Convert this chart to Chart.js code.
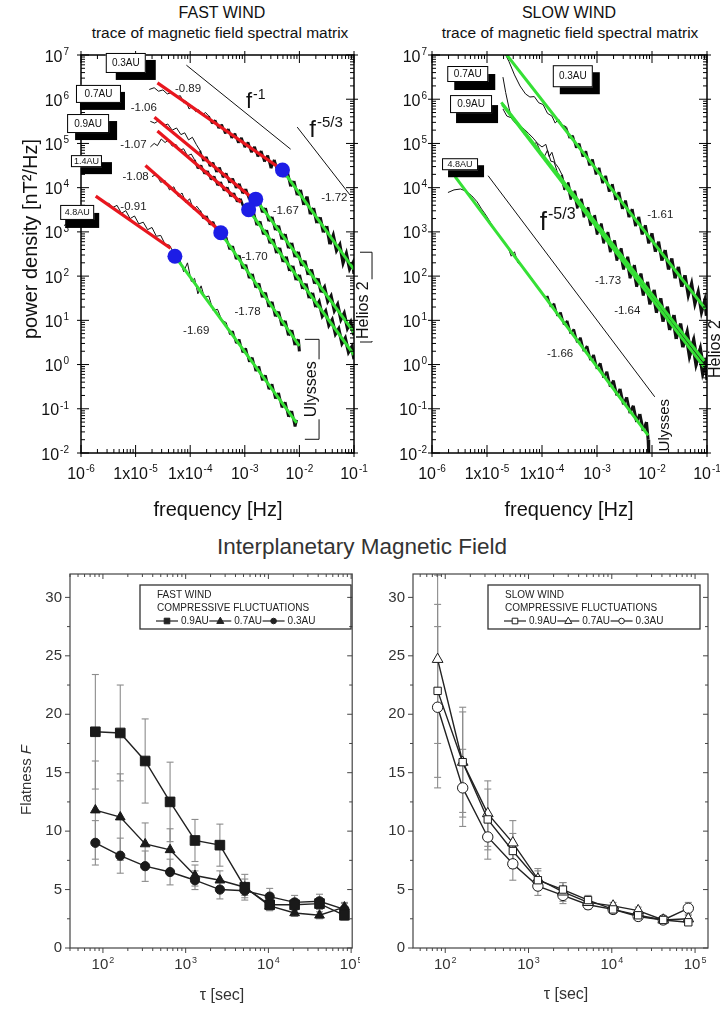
<!DOCTYPE html>
<html><head><meta charset="utf-8">
<script src="https://cdn.jsdelivr.net/npm/chart.js@4.4.1/dist/chart.umd.min.js"></script>
<style>
html,body{margin:0;padding:0;background:#fff;}
body{width:720px;height:1009px;position:relative;overflow:hidden;font-family:"Liberation Sans",Arial,sans-serif;}
canvas{position:absolute;}
.ttl{position:absolute;text-align:center;color:#111;white-space:nowrap;}
</style></head><body>
<div class="ttl" style="left:122px;top:4px;width:200px;font-size:16px;">FAST WIND</div>
<div class="ttl" style="left:60px;top:24px;width:320px;font-size:15.5px;">trace of magnetic field spectral matrix</div>
<div class="ttl" style="left:469px;top:4px;width:200px;font-size:16px;">SLOW WIND</div>
<div class="ttl" style="left:410px;top:24px;width:320px;font-size:15.5px;">trace of magnetic field spectral matrix</div>
<div class="ttl" style="left:162px;top:534px;width:400px;font-size:22.5px;color:#333;">Interplanetary Magnetic Field</div>
<canvas id="fastSpec" width="380" height="525" style="left:0;top:0"></canvas>
<canvas id="slowSpec" width="360" height="525" style="left:360px;top:0"></canvas>
<canvas id="fastFlat" width="360" height="479" style="left:0;top:530px"></canvas>
<canvas id="slowFlat" width="360" height="479" style="left:360px;top:530px"></canvas>
<script>
const FF = '"Liberation Sans", Arial, sans-serif';

// ================= TOP PANELS: spectra, values as [log10 f (Hz), log10 P (nT^2/Hz)] =================
const specXTickExp = [-6, -5, -4, -3, -2, -1];
const specXTickLabels = ['10^-6', '1x10^-5', '1x10^-4', '10^-3', '10^-2', '10^-1'];
const specYTickExp = [-2, -1, 0, 1, 2, 3, 4, 5, 6, 7];
const specYTickLabels = ['10^-2', '10^-1', '10^0', '10^1', '10^2', '10^3', '10^4', '10^5', '10^6', '10^7'];

// ---- FAST WIND ----
const fast03Trace = [[-4.75,6.22],[-4.66,6.26],[-4.58,6.18],[-4.50,6.21],[-4.42,6.12],[-4.34,6.15],[-4.26,6.05],[-4.18,6.08],[-4.12,5.92],[-4.08,5.96],[-4.02,5.78],[-3.96,5.84],[-3.90,5.72],[-3.84,5.76],[-3.78,5.64],[-3.72,5.70],
 [-3.66,5.62],[-3.60,5.45],[-3.54,5.53],[-3.48,5.34],[-3.42,5.43],[-3.36,5.22],[-3.30,5.33],[-3.24,5.12],[-3.18,5.23],[-3.12,5.01],[-3.06,5.13],[-3.00,4.91],[-2.94,5.03],[-2.88,4.80],[-2.82,4.93],[-2.76,4.70],[-2.70,4.83],[-2.64,4.59],[-2.58,4.73],[-2.52,4.44],[-2.46,4.63],[-2.40,4.38],[-2.34,4.53],
 [-2.28,4.24],[-2.22,4.36],[-2.16,4.03],[-2.10,4.15],[-2.04,3.83],[-1.98,3.95],[-1.92,3.61],[-1.86,3.80],[-1.80,3.40],[-1.74,3.54],[-1.68,3.20],[-1.62,3.33],[-1.56,2.99],[-1.50,3.13],[-1.44,2.72],[-1.38,2.92],[-1.32,2.58],[-1.26,2.71],[-1.20,2.30],[-1.14,2.51],[-1.08,2.16],[-1.02,2.30],[-1.00,2.05]];
const fast07Trace = [[-4.73,5.50],[-4.65,5.46],[-4.57,5.52],[-4.49,5.40],[-4.41,5.44],[-4.33,5.30],[-4.25,5.35],[-4.17,5.20],[-4.10,5.24],[-4.03,5.08],[-3.96,5.14],[-3.89,4.98],
 [-3.82,4.84],[-3.76,4.60],[-3.70,4.70],[-3.64,4.48],[-3.58,4.57],[-3.52,4.35],[-3.46,4.46],[-3.40,4.23],[-3.34,4.33],[-3.28,4.11],[-3.22,4.21],[-3.16,3.99],[-3.10,4.09],[-3.04,3.87],[-2.98,3.97],[-2.92,3.74],[-2.86,3.85],
 [-2.80,3.66],[-2.74,3.74],[-2.68,3.44],[-2.62,3.54],[-2.56,3.24],[-2.50,3.34],[-2.44,3.04],[-2.38,3.14],[-2.32,2.83],[-2.26,2.95],[-2.20,2.63],[-2.14,2.75],[-2.08,2.43],[-2.02,2.55],[-1.96,2.23],[-1.90,2.35],[-1.84,2.03],[-1.78,2.15],[-1.72,1.83],[-1.66,1.95],[-1.60,1.63],[-1.54,1.75],[-1.48,1.43],[-1.42,1.55],[-1.36,1.22],[-1.30,1.36],[-1.24,1.02],[-1.18,1.16],[-1.12,0.82],[-1.06,0.96],[-1.00,0.66]];
const fast09Trace = [[-4.73,4.92],[-4.66,5.00],[-4.60,4.95],[-4.53,5.10],[-4.46,5.02],[-4.40,5.08],[-4.33,4.94],[-4.26,4.98],[-4.19,4.85],[-4.12,4.88],[-4.05,4.72],[-3.98,4.76],
 [-3.92,4.63],[-3.86,4.43],[-3.80,4.51],[-3.74,4.31],[-3.68,4.38],[-3.62,4.18],[-3.56,4.26],[-3.50,4.05],[-3.44,4.13],[-3.38,3.93],[-3.32,4.01],[-3.26,3.80],[-3.20,3.88],[-3.14,3.68],[-3.08,3.75],[-3.02,3.55],[-2.96,3.63],
 [-2.90,3.37],[-2.84,3.45],[-2.78,3.15],[-2.72,3.24],[-2.66,2.94],[-2.60,3.04],[-2.54,2.74],[-2.48,2.84],[-2.42,2.52],[-2.36,2.64],[-2.30,2.32],[-2.24,2.44],[-2.18,2.12],[-2.12,2.23],[-2.06,1.91],[-2.00,2.03],[-1.94,1.71],[-1.88,1.83],[-1.82,1.50],[-1.76,1.62],[-1.70,1.30],[-1.64,1.42],[-1.58,1.10],[-1.52,1.21],[-1.46,0.89],[-1.40,1.01],[-1.34,0.69],[-1.28,0.81],[-1.22,0.48],[-1.16,0.60],[-1.10,0.28],[-1.04,0.40],[-1.00,0.12]];
const fast14Trace = [[-4.70,4.25],[-4.62,4.30],[-4.54,4.12],[-4.46,4.16],[-4.38,3.95],[-4.30,4.02],[-4.22,3.80],[-4.15,3.88],[-4.08,3.66],[-4.01,3.75],[-3.94,3.50],[-3.88,3.58],
 [-3.82,3.48],[-3.76,3.30],[-3.70,3.36],[-3.64,3.16],[-3.58,3.23],[-3.52,3.03],[-3.46,3.08],
 [-3.40,2.83],[-3.34,2.88],[-3.28,2.60],[-3.22,2.68],[-3.16,2.38],[-3.10,2.47],[-3.04,2.17],[-2.98,2.26],[-2.92,1.95],[-2.86,2.05],[-2.80,1.74],[-2.74,1.84],[-2.68,1.52],[-2.62,1.63],[-2.56,1.30],[-2.50,1.42],[-2.44,1.09],[-2.38,1.20],[-2.32,0.88],[-2.26,0.99],[-2.20,0.66],[-2.14,0.78],[-2.08,0.44],[-2.02,0.57],[-2.00,0.30]];
const fast48Trace = [[-5.50,3.66],[-5.42,3.55],[-5.34,3.60],[-5.26,3.42],[-5.18,3.48],[-5.10,3.30],[-5.02,3.36],[-4.94,3.18],[-4.86,3.22],[-4.78,3.05],[-4.70,3.10],[-4.62,2.90],[-4.54,2.92],[-4.46,2.72],[-4.38,2.70],[-4.30,2.52],
 [-4.20,2.42],[-4.12,2.10],[-4.05,2.30],[-3.98,1.88],[-3.92,1.95],[-3.86,1.60],[-3.80,1.78],[-3.74,1.52],[-3.66,1.55],[-3.58,1.22],[-3.50,1.25],[-3.42,1.00],[-3.34,0.95],
 [-3.28,0.68],[-3.22,0.76],[-3.16,0.48],[-3.10,0.57],[-3.04,0.27],[-2.98,0.37],[-2.92,0.06],[-2.86,0.16],[-2.80,-0.15],[-2.74,-0.04],[-2.68,-0.36],[-2.62,-0.24],[-2.56,-0.56],[-2.50,-0.44],[-2.44,-0.77],[-2.38,-0.64],[-2.32,-0.97],[-2.26,-0.85],[-2.20,-1.18],[-2.14,-1.05],[-2.08,-1.40],[-2.05,-1.25]];
// frequency (log10) where each trace turns into the dense noisy band
const fastBandStart = [-3.66, -3.82, -3.92, -3.82, -3.28];
// low-frequency fits (red) and high-frequency fits (green), break points (blue)
const fastLowFits = [[[-4.60,6.37],[-2.31,4.40]], [[-4.655,5.59],[-2.82,3.72]], [[-4.60,5.28],[-3.07,3.67]], [[-4.82,4.50],[-3.49,3.06]], [[-5.73,3.81],[-4.36,2.63]]];
const fastHighFits = [[[-2.31,4.40],[-1.00,2.15]], [[-2.80,3.74],[-1.00,0.73]], [[-2.93,3.50],[-1.00,0.22]], [[-3.44,2.98],[-2.00,0.42]], [[-4.28,2.45],[-2.05,-1.32]]];
const fastBreaks = [[-2.31,4.40],[-2.80,3.74],[-2.93,3.50],[-3.44,2.98],[-4.28,2.45]];
const fastRefLines = [[[-4.07,6.77],[-2.16,4.87]], [[-2.04,5.37],[-1.07,3.83]]];
const fastSlopeLabels = ['-0.89','-1.06','-1.07','-1.08','-0.91','-1.72','-1.67','-1.70','-1.78','-1.69'];
const fastDistances = ['0.3AU','0.7AU','0.9AU','1.4AU','4.8AU'];

// ---- SLOW WIND ----
const slow03Trace = [[-4.70,7.10],[-4.60,6.85],[-4.50,6.55],[-4.40,6.30],[-4.30,6.12],[-4.22,6.05],[-4.14,6.06],[-4.06,5.92],[-3.98,5.88],[-3.90,5.68],[-3.82,5.62],[-3.76,5.46],[-3.70,5.55],[-3.62,5.40],
 [-3.56,5.36],[-3.50,5.12],[-3.44,5.18],[-3.38,4.90],[-3.32,5.00],[-3.26,4.70],[-3.20,4.83],[-3.14,4.50],[-3.08,4.64],[-3.02,4.30],[-2.96,4.45],[-2.90,4.10],[-2.84,4.27],[-2.78,3.91],[-2.72,4.08],[-2.66,3.72],[-2.60,3.90],[-2.54,3.52],[-2.48,3.71],[-2.42,3.33],[-2.36,3.52],[-2.30,3.13],[-2.24,3.34],[-2.18,2.94],[-2.12,3.15],[-2.06,2.74],[-2.00,2.97],[-1.94,2.55],[-1.88,2.78],[-1.82,2.35],[-1.76,2.59],[-1.70,2.15],[-1.64,2.40],[-1.58,1.95],[-1.52,2.21],[-1.46,1.76],[-1.40,2.02],[-1.34,1.57],[-1.28,1.83],[-1.22,1.38],[-1.16,1.64],[-1.10,1.19],[-1.04,1.45],[-1.01,1.10]];
const slow07Trace = [[-4.71,6.50],[-4.66,6.15],[-4.60,5.80],[-4.55,5.55],[-4.48,5.48],[-4.40,5.40],[-4.32,5.32],[-4.24,5.22],[-4.16,5.12],[-4.08,5.00],[-4.00,4.92],[-3.93,4.98],[-3.87,4.70],[-3.82,4.80],[-3.76,4.55],[-3.70,4.45],
 [-3.64,4.30],[-3.58,3.98],[-3.52,4.12],[-3.46,3.78],[-3.40,3.93],[-3.34,3.58],[-3.28,3.75],[-3.22,3.39],[-3.16,3.56],[-3.10,3.19],[-3.04,3.38],[-2.98,3.00],[-2.92,3.19],[-2.86,2.81],[-2.80,3.00],[-2.74,2.62],[-2.68,2.81],[-2.62,2.42],[-2.56,2.63],[-2.50,2.23],[-2.44,2.44],[-2.38,2.04],[-2.32,2.25],[-2.26,1.84],[-2.20,2.06],[-2.14,1.65],[-2.08,1.87],[-2.02,1.45],[-1.96,1.69],[-1.90,1.26],[-1.84,1.50],[-1.78,1.06],[-1.72,1.31],[-1.66,0.87],[-1.60,1.12],[-1.54,0.67],[-1.48,0.93],[-1.42,0.48],[-1.36,0.74],[-1.30,0.28],[-1.24,0.55],[-1.18,0.09],[-1.12,0.36],[-1.06,-0.10],[-1.02,0.15]];
const slow09Trace = [[-4.71,5.78],[-4.64,5.62],[-4.56,5.58],[-4.48,5.45],[-4.40,5.36],[-4.32,5.20],[-4.24,5.15],[-4.16,4.98],[-4.10,5.02],[-4.02,4.80],[-3.95,4.72],[-3.90,4.85],[-3.84,4.60],[-3.78,4.58],[-3.72,4.35],[-3.66,4.22],
 [-3.60,3.95],[-3.54,4.08],[-3.48,3.73],[-3.42,3.90],[-3.36,3.53],[-3.30,3.72],[-3.24,3.33],[-3.18,3.53],[-3.12,3.14],[-3.06,3.34],[-3.00,2.94],[-2.94,3.15],[-2.88,2.74],[-2.82,2.96],[-2.76,2.54],[-2.70,2.77],[-2.64,2.35],[-2.58,2.57],[-2.52,2.15],[-2.46,2.38],[-2.40,1.95],[-2.34,2.19],[-2.28,1.76],[-2.22,2.00],[-2.16,1.56],[-2.10,1.81],[-2.04,1.36],[-1.98,1.61],[-1.92,1.17],[-1.86,1.42],[-1.80,0.97],[-1.74,1.23],[-1.68,0.78],[-1.62,1.04],[-1.56,0.58],[-1.50,0.85],[-1.44,0.39],[-1.38,0.66],[-1.32,0.19],[-1.26,0.47],[-1.20,0.00],[-1.14,0.27],[-1.08,-0.20],[-1.02,0.05],[-1.00,-0.35]];
const slow48Trace = [[-5.71,3.89],[-5.60,3.95],[-5.48,3.97],[-5.38,3.92],[-5.28,3.82],[-5.18,3.68],[-5.10,3.52],[-5.02,3.38],[-4.94,3.22],[-4.86,3.05],[-4.78,2.92],[-4.70,2.80],[-4.62,2.66],[-4.56,2.45],[-4.50,2.55],[-4.44,2.30],[-4.36,2.22],[-4.28,2.08],[-4.20,1.98],[-4.12,1.80],[-4.04,1.70],[-3.96,1.52],
 [-3.90,1.55],[-3.84,1.30],[-3.78,1.38],[-3.72,1.10],[-3.66,1.18],[-3.60,0.90],[-3.54,0.99],[-3.48,0.70],[-3.42,0.80],[-3.36,0.50],[-3.30,0.61],[-3.24,0.30],[-3.18,0.42],[-3.12,0.10],[-3.06,0.22],[-3.00,-0.10],[-2.94,0.03],[-2.88,-0.30],[-2.82,-0.16],[-2.76,-0.50],[-2.70,-0.36],[-2.64,-0.70],[-2.58,-0.55],[-2.52,-0.90],[-2.46,-0.74],[-2.40,-1.10],[-2.34,-0.93],[-2.28,-1.30],[-2.22,-1.12],[-2.16,-1.50],[-2.10,-1.30],[-2.07,-1.70],[-2.06,-2.00]];
const slowBandStart = [-3.62, -3.64, -3.60, -3.90];
const slowFits = [[[-4.64,7.00],[-1.03,1.26]], [[-4.74,5.93],[-1.05,0.08]], [[-4.72,5.88],[-1.05,-0.06]], [[-5.58,4.25],[-2.07,-1.60]]];
const slowRefLines = [[[-4.98,4.27],[-1.95,-0.73]]];
const slowSlopeLabels = ['-1.61','-1.73','-1.64','-1.66'];
const slowDistances = ['0.7AU','0.3AU','0.9AU','4.8AU'];

// ================= BOTTOM PANELS: flatness =================
const tauSec = [81, 162, 324, 648, 1296, 2592, 5184, 10368, 20736, 41472, 82944];
const fast09F = [18.5, 18.4, 16.0, 12.5, 9.2, 8.8, 5.2, 3.7, 3.7, 3.8, 2.8];
const fast09Err = [4.9, 4.1, 3.6, 3.4, 1.8, 1.8, 1.1, 0.5, 0.5, 0.5, 0.4];
const fast07F = [11.8, 11.2, 8.9, 8.4, 6.2, 5.8, 5.2, 3.6, 3.0, 2.8, 3.5];
const fast07Err = [4.2, 3.7, 1.8, 1.8, 0.9, 0.8, 0.7, 0.4, 0.3, 0.3, 0.4];
const fast03F = [9.0, 7.9, 7.0, 6.5, 5.8, 5.0, 4.9, 4.4, 3.9, 4.0, 3.3];
const fast03Err = [1.9, 1.5, 1.3, 1.1, 0.8, 0.8, 0.6, 0.7, 0.6, 0.6, 0.5];
const slow09F = [22.0, 15.9, 11.0, 8.3, 5.8, 5.0, 4.1, 3.3, 2.8, 2.4, 2.2];
const slow09Err = [7.4, 4.3, 2.6, 1.5, 0.8, 0.6, 0.4, 0.3, 0.3, 0.2, 0.2];
const slow07F = [24.7, 15.9, 11.5, 9.0, 5.9, 4.8, 3.9, 3.6, 3.2, 2.4, 2.5];
const slow07Err = [7.2, 4.7, 2.8, 1.9, 0.9, 0.8, 0.4, 0.3, 0.3, 0.2, 0.3];
const slow03F = [20.6, 13.7, 9.5, 7.2, 5.3, 4.5, 3.7, 3.3, 2.7, 2.4, 3.4];
const slow03Err = [6.9, 3.3, 1.9, 1.4, 0.8, 0.7, 0.4, 0.3, 0.3, 0.2, 0.5];
const flatXTicks = [100, 1000, 10000, 100000];
const flatXTickLabels = ['10^2', '10^3', '10^4', '10^5'];
const flatYTicks = [0, 5, 10, 15, 20, 25, 30];
const flatSeriesNames = ['0.9AU', '0.7AU', '0.3AU'];

// ================= helpers =================
const RED = '#e8161e', GREEN = '#35e035', BLUE = '#1d1de6';
const P10 = a => a.map(p => ({x: Math.pow(10, p[0]), y: Math.pow(10, p[1])}));

function powText(ctx, str, x, y, size, align, color) {
  const parts = str.split('^'); const base = parts[0], exp = parts[1] || '';
  const es = Math.round(size * 0.62);
  ctx.font = size + 'px ' + FF; const wb = ctx.measureText(base).width;
  ctx.font = es + 'px ' + FF; const we = exp ? ctx.measureText(exp).width + 1 : 0;
  const w = wb + we;
  const x0 = align === 'right' ? x - w : align === 'center' ? x - w / 2 : x;
  ctx.fillStyle = color || '#111'; ctx.textAlign = 'left'; ctx.textBaseline = 'alphabetic';
  ctx.font = size + 'px ' + FF; ctx.fillText(base, x0, y);
  if (exp) { ctx.font = es + 'px ' + FF; ctx.fillText(exp, x0 + wb + 1, y - size * 0.42); }
}
function logTicks(min, max) {
  const out = {major: [], minor: []};
  for (let e = Math.floor(Math.log10(min)); e <= Math.ceil(Math.log10(max)); e++) {
    for (let k = 1; k < 10; k++) {
      const v = k * Math.pow(10, e);
      if (v < min * 0.999 || v > max * 1.001) continue;
      (k === 1 ? out.major : out.minor).push(v);
    }
  }
  return out;
}
function line(ctx, x1, y1, x2, y2) { ctx.beginPath(); ctx.moveTo(x1, y1); ctx.lineTo(x2, y2); ctx.stroke(); }
function marker(ctx, style, x, y, r, filled) {
  ctx.beginPath();
  if (style === 'rect') ctx.rect(x - r, y - r, 2 * r, 2 * r);
  else if (style === 'triangle') { ctx.moveTo(x, y - r * 1.1); ctx.lineTo(x + r, y + r * 0.7); ctx.lineTo(x - r, y + r * 0.7); ctx.closePath(); }
  else ctx.arc(x, y, r, 0, Math.PI * 2);
  ctx.fillStyle = filled ? '#222' : '#fff'; ctx.fill();
  ctx.lineWidth = 1; ctx.strokeStyle = '#222'; ctx.stroke();
}

// ================= spectrum panels =================
function specDeco(cfg) {
  return {
    id: 'specDeco',
    afterDraw(chart) {
      const ctx = chart.ctx, a = chart.chartArea, xs = chart.scales.x, ys = chart.scales.y;
      const X = v => xs.getPixelForValue(Math.pow(10, v)), Y = v => ys.getPixelForValue(Math.pow(10, v));
      ctx.save();
      ctx.strokeStyle = '#000'; ctx.lineWidth = 1.5;
      ctx.strokeRect(a.left, a.top, a.right - a.left, a.bottom - a.top);
      ctx.lineWidth = 1;
      const tx = logTicks(xs.min, xs.max), ty = logTicks(ys.min, ys.max);
      tx.major.forEach(v => { const p = xs.getPixelForValue(v); line(ctx, p, a.bottom + 4, p, a.bottom - 8); line(ctx, p, a.top - 4, p, a.top + 8); });
      tx.minor.forEach(v => { const p = xs.getPixelForValue(v); line(ctx, p, a.bottom, p, a.bottom - 4); line(ctx, p, a.top, p, a.top + 4); });
      ty.major.forEach(v => { const p = ys.getPixelForValue(v); line(ctx, a.left - 4, p, a.left + 8, p); line(ctx, a.right + 4, p, a.right - 8, p); });
      ty.minor.forEach(v => { const p = ys.getPixelForValue(v); line(ctx, a.left, p, a.left + 4, p); line(ctx, a.right, p, a.right - 4, p); });
      specXTickExp.forEach((e, i) => powText(ctx, specXTickLabels[i], X(e), a.bottom + 26, 16, 'center', '#111'));
      specYTickExp.forEach((e, i) => powText(ctx, specYTickLabels[i], a.left - cfg.yGap, Y(e) + 6.5, 16, 'right', '#111'));
      ctx.fillStyle = '#111'; ctx.font = '20px ' + FF; ctx.textAlign = 'center'; ctx.textBaseline = 'middle';
      ctx.fillText('frequency [Hz]', cfg.xTitle[0], cfg.xTitle[1]);
      if (cfg.yTitle) {
        ctx.save(); ctx.translate(cfg.yTitle[0], cfg.yTitle[1]); ctx.rotate(-Math.PI / 2);
        ctx.fillText('power density [nT\u00B2/Hz]', 0, 0); ctx.restore();
      }
      cfg.powers.forEach(p => powText(ctx, p.t, X(p.x), Y(p.y), p.size, 'left', '#111'));
      ctx.font = '11.5px ' + FF; ctx.fillStyle = '#222'; ctx.textAlign = 'center'; ctx.textBaseline = 'middle';
      cfg.labels.forEach(l => ctx.fillText(l.t, X(l.x), Y(l.y)));
      cfg.boxes.forEach(b => {
        const cx = X(b.x), cy = Y(b.y), l = cx - b.w / 2, t = cy - b.h / 2;
        ctx.fillStyle = '#000'; ctx.fillRect(l + b.dx, t + b.dy, b.w, b.h);
        ctx.fillStyle = '#fff'; ctx.fillRect(l, t, b.w, b.h);
        ctx.strokeStyle = '#000'; ctx.lineWidth = 1; ctx.strokeRect(l + 0.5, t + 0.5, b.w - 1, b.h - 1);
        ctx.fillStyle = '#111'; ctx.font = b.fs + 'px ' + FF; ctx.textAlign = 'center'; ctx.textBaseline = 'middle';
        ctx.fillText(b.t, cx, cy + 0.5);
      });
      cfg.craft.forEach(c => {
        ctx.font = c.size + 'px ' + FF;
        const w = ctx.measureText(c.t).width, tcx = X(c.tx), tcy = Y(c.ty);
        if (c.br) {
          const x1 = X(c.br[0]), x2 = X(c.br[1]), yt = Y(c.br[2]), yb = Y(c.br[3]);
          ctx.strokeStyle = '#111'; ctx.lineWidth = 1;
          line(ctx, x1, yt, x2, yt); line(ctx, x2, yt, x2, tcy - w / 2 - 2);
          line(ctx, x2, tcy + w / 2 + 2, x2, yb); line(ctx, x2, yb, x1, yb);
        }
        ctx.save(); ctx.translate(tcx, tcy); ctx.rotate(-Math.PI / 2);
        ctx.fillStyle = '#111'; ctx.textAlign = 'center'; ctx.textBaseline = 'middle';
        ctx.fillText(c.t, 0, 0); ctx.restore();
      });
      ctx.restore();
    }
  };
}

function buildSpec(id, cfg) {
  const ds = [];
  cfg.traces.forEach((t, i) => {
    const lb = cfg.bandStart[i];
    ds.push({data: P10(t), showLine: true, borderColor: '#111', borderWidth: 1, pointRadius: 0, order: 5,
      segment: {borderWidth: c => {
        const lf = Math.log10(c.p0.parsed.x);
        if (lf < lb - 0.001) return 1;
        return 2.0 + 1.3 * Math.min(1, (lf - lb) / 2.2);
      }}});
  });
  cfg.refs.forEach(t => ds.push({data: P10(t), showLine: true, borderColor: '#111', borderWidth: 1, pointRadius: 0, order: 4}));
  (cfg.reds || []).forEach(t => ds.push({data: P10(t), showLine: true, borderColor: RED, borderWidth: 3.2, pointRadius: 0, order: 3}));
  cfg.greens.forEach(t => ds.push({data: P10(t), showLine: true, borderColor: GREEN, borderWidth: 3, pointRadius: 0, order: 2}));
  if (cfg.dots) ds.push({data: P10(cfg.dots), showLine: false, pointRadius: 7.5, backgroundColor: BLUE, borderWidth: 0, order: 1});
  return new Chart(document.getElementById(id), {
    type: 'scatter',
    data: {datasets: ds},
    options: {
      responsive: false, animation: false, events: [],
      layout: {padding: {top: 55, right: cfg.padRight, left: 0, bottom: 0}},
      plugins: {legend: {display: false}, tooltip: {enabled: false}},
      scales: {
        x: {type: 'logarithmic', min: 1e-6, max: 1e-1, grid: {display: false, drawTicks: false}, border: {display: false}, ticks: {display: false}, afterFit: s => { s.height = 72; }},
        y: {type: 'logarithmic', min: 1e-2, max: 1e7, grid: {display: false, drawTicks: false}, border: {display: false}, ticks: {display: false}, afterFit: s => { s.width = cfg.yAxisW; }}
      }
    },
    plugins: [specDeco(cfg.deco)]
  });
}

buildSpec('fastSpec', {
  traces: [fast03Trace, fast07Trace, fast09Trace, fast14Trace, fast48Trace], bandStart: fastBandStart,
  refs: fastRefLines, reds: fastLowFits, greens: fastHighFits, dots: fastBreaks,
  padRight: 26, yAxisW: 81,
  deco: {
    yGap: 12, xTitle: [218, 510], yTitle: [31, 239],
    powers: [{t: 'f^-1', x: -2.98, y: 5.80, size: 22}, {t: 'f^-5/3', x: -1.82, y: 5.14, size: 24}],
    labels: [
      {t: fastSlopeLabels[0], x: -4.04, y: 6.23}, {t: fastSlopeLabels[1], x: -4.85, y: 5.80}, {t: fastSlopeLabels[2], x: -5.04, y: 4.96},
      {t: fastSlopeLabels[3], x: -5.00, y: 4.24}, {t: fastSlopeLabels[4], x: -5.04, y: 3.56}, {t: fastSlopeLabels[5], x: -1.36, y: 3.76},
      {t: fastSlopeLabels[6], x: -2.25, y: 3.47}, {t: fastSlopeLabels[7], x: -2.82, y: 2.43}, {t: fastSlopeLabels[8], x: -2.95, y: 1.19},
      {t: fastSlopeLabels[9], x: -3.89, y: 0.76}],
    boxes: [
      {t: fastDistances[0], x: -5.18, y: 6.82, w: 40, h: 20, dx: 10, dy: 7, fs: 10},
      {t: fastDistances[1], x: -5.68, y: 6.12, w: 45, h: 18, dx: 4, dy: 7, fs: 10},
      {t: fastDistances[2], x: -5.87, y: 5.45, w: 42, h: 19, dx: 8, dy: 7, fs: 10},
      {t: fastDistances[3], x: -5.90, y: 4.60, w: 31, h: 12, dx: 10, dy: 7, fs: 9},
      {t: fastDistances[4], x: -6.07, y: 3.44, w: 34, h: 15, dx: 5, dy: 8, fs: 9}],
    craft: [
      {t: 'Ulysses', tx: -1.77, ty: -0.56, size: 16, br: [-1.90, -1.64, 0.57, -1.69]},
      {t: 'Helios 2', tx: -0.82, ty: 1.23, size: 16, br: [-0.89, -0.67, 2.54, 0.51]}]
  }
});

buildSpec('slowSpec', {
  traces: [slow03Trace, slow07Trace, slow09Trace, slow48Trace], bandStart: slowBandStart,
  refs: slowRefLines, greens: slowFits,
  padRight: 13, yAxisW: 72,
  deco: {
    yGap: 5, xTitle: [209, 510], yTitle: null,
    powers: [{t: 'f^-5/3', x: -4.04, y: 3.04, size: 26}],
    labels: [
      {t: slowSlopeLabels[0], x: -1.85, y: 3.38}, {t: slowSlopeLabels[1], x: -2.80, y: 1.89},
      {t: slowSlopeLabels[2], x: -2.45, y: 1.21}, {t: slowSlopeLabels[3], x: -3.67, y: 0.25}],
    boxes: [
      {t: slowDistances[0], x: -5.35, y: 6.57, w: 41, h: 16, dx: 7, dy: 8, fs: 10},
      {t: slowDistances[1], x: -3.44, y: 6.52, w: 40, h: 22, dx: 7, dy: 7, fs: 10},
      {t: slowDistances[2], x: -5.29, y: 5.89, w: 42, h: 18, dx: 6, dy: 10, fs: 10},
      {t: slowDistances[3], x: -5.49, y: 4.53, w: 36, h: 12, dx: 6, dy: 7, fs: 9}],
    craft: [
      {t: 'Ulysses', tx: -1.76, ty: -1.37, size: 15},
      {t: 'Helios 2', tx: -0.84, ty: 0.35, size: 16}]
  }
});

// ================= flatness panels =================
function flatDeco(cfg) {
  return {
    id: 'flatDeco',
    beforeDatasetsDraw(chart) {
      const ctx = chart.ctx, ys = chart.scales.y;
      ctx.save(); ctx.strokeStyle = '#8c8c8c'; ctx.lineWidth = 1.1;
      cfg.errors.forEach((errs, di) => {
        const meta = chart.getDatasetMeta(di), data = chart.data.datasets[di].data;
        meta.data.forEach((pt, i) => {
          const v = data[i].y, e = errs[i];
          const yt = ys.getPixelForValue(v + e), yb = ys.getPixelForValue(v - e);
          line(ctx, pt.x, yt, pt.x, yb);
          line(ctx, pt.x - 3.5, yt, pt.x + 3.5, yt);
          line(ctx, pt.x - 3.5, yb, pt.x + 3.5, yb);
        });
      });
      ctx.restore();
    },
    afterDraw(chart) {
      const ctx = chart.ctx, a = chart.chartArea, xs = chart.scales.x, ys = chart.scales.y;
      ctx.save();
      ctx.strokeStyle = '#444'; ctx.lineWidth = 1.2;
      ctx.strokeRect(a.left, a.top, a.right - a.left, a.bottom - a.top);
      ctx.lineWidth = 1;
      const tx = logTicks(xs.min, xs.max);
      tx.major.forEach(v => { const p = xs.getPixelForValue(v); line(ctx, p, a.bottom, p, a.bottom + 5); line(ctx, p, a.top, p, a.top + 5); });
      tx.minor.forEach(v => { const p = xs.getPixelForValue(v); line(ctx, p, a.bottom, p, a.bottom + 3); line(ctx, p, a.top, p, a.top + 3); });
      flatYTicks.forEach(v => { const p = ys.getPixelForValue(v); line(ctx, a.left - 5, p, a.left, p); line(ctx, a.right - 5, p, a.right, p); });
      flatYTicks.slice(0, -1).forEach(v => { const p = ys.getPixelForValue(v + 2.5); line(ctx, a.left - 3, p, a.left, p); line(ctx, a.right - 3, p, a.right, p); });
      flatXTicks.forEach((v, i) => powText(ctx, flatXTickLabels[i], xs.getPixelForValue(v), a.bottom + 21, 15, 'center', '#333'));
      ctx.fillStyle = '#333'; ctx.font = '16px ' + FF; ctx.textAlign = 'center'; ctx.textBaseline = 'middle';
      ctx.fillText('\u03C4 [sec]', cfg.xTitle[0], cfg.xTitle[1]);
      if (cfg.yTitle) {
        ctx.save(); ctx.translate(cfg.yTitle[0], cfg.yTitle[1]); ctx.rotate(-Math.PI / 2);
        ctx.font = '15px ' + FF; const w1 = ctx.measureText('Flatness ').width;
        ctx.font = 'italic 15px ' + FF; const w2 = ctx.measureText('F').width;
        ctx.textAlign = 'left';
        ctx.font = '15px ' + FF; ctx.fillText('Flatness ', -(w1 + w2) / 2, 0);
        ctx.font = 'italic 15px ' + FF; ctx.fillText('F', -(w1 + w2) / 2 + w1, 0);
        ctx.restore();
      }
      const bl = a.left + cfg.legend.dx, bt = a.top + 11, bw = cfg.legend.w, bh = 44;
      ctx.strokeStyle = '#333'; ctx.lineWidth = 1.3; ctx.strokeRect(bl, bt, bw, bh);
      ctx.fillStyle = '#222'; ctx.font = '10px ' + FF; ctx.textAlign = 'left'; ctx.textBaseline = 'alphabetic';
      ctx.fillText(cfg.legend.title, bl + 17, bt + 13);
      ctx.fillText('COMPRESSIVE FLUCTUATIONS', bl + 17, bt + 26);
      let x = bl + 16; const ry = bt + 36;
      cfg.legend.styles.forEach((st, i) => {
        ctx.strokeStyle = '#222'; ctx.lineWidth = 1.2; line(ctx, x, ry, x + 22, ry);
        marker(ctx, st, x + 11, ry, st === 'triangle' ? 3.5 : 2.8, cfg.legend.filled);
        ctx.fillStyle = '#222'; ctx.font = '10px ' + FF; ctx.textAlign = 'left'; ctx.textBaseline = 'middle';
        ctx.fillText(flatSeriesNames[i], x + 25, ry + 0.5);
        x += 25 + ctx.measureText(flatSeriesNames[i]).width + 0.5;
      });
      ctx.restore();
    }
  };
}

function buildFlat(id, cfg) {
  const styles = ['rect', 'triangle', 'circle'];
  const radii = cfg.filled ? [6.8, 5.6, 4.6] : [5.2, 6.2, 5.2];
  const ds = cfg.series.map((vals, i) => ({
    data: tauSec.map((t, k) => ({x: t, y: vals[k]})), showLine: true,
    borderColor: '#222', borderWidth: 1.4, pointStyle: styles[i], pointRadius: radii[i],
    pointBackgroundColor: cfg.filled ? '#1a1a1a' : '#ffffff', pointBorderColor: '#1a1a1a', pointBorderWidth: 1
  }));
  return new Chart(document.getElementById(id), {
    type: 'scatter',
    data: {datasets: ds},
    options: {
      responsive: false, animation: false, events: [],
      layout: {padding: {top: 44, right: cfg.padRight, left: 0, bottom: 0}},
      plugins: {legend: {display: false}, tooltip: {enabled: false}},
      scales: {
        x: {type: 'logarithmic', min: cfg.xMin, max: cfg.xMax, grid: {display: false, drawTicks: false}, border: {display: false}, ticks: {display: false}, afterFit: s => { s.height = 61; }},
        y: {type: 'linear', min: 0, max: 32, grid: {display: false, drawTicks: false}, border: {display: false},
            afterBuildTicks: s => { s.ticks = flatYTicks.map(v => ({value: v})); },
            ticks: {font: {size: 15, family: FF}, color: '#333', padding: 8},
            afterFit: s => { s.width = cfg.yAxisW; }}
      }
    },
    plugins: [flatDeco({errors: cfg.errors, xTitle: cfg.xTitle, yTitle: cfg.yTitle,
      legend: {dx: cfg.legendDx, w: cfg.legendW, title: cfg.title, styles: styles, filled: cfg.filled}})]
  });
}

buildFlat('fastFlat', {
  series: [fast09F, fast07F, fast03F], errors: [fast09Err, fast07Err, fast03Err], filled: true,
  xMin: 40, xMax: 1.03e5, padRight: 7, yAxisW: 70, xTitle: [222, 466], yTitle: [27, 250],
  legendDx: 70, legendW: 211, title: 'FAST WIND'
});
buildFlat('slowFlat', {
  series: [slow09F, slow07F, slow03F], errors: [slow09Err, slow07Err, slow03Err], filled: false,
  xMin: 41, xMax: 1.43e5, padRight: 12, yAxisW: 53, xTitle: [206, 465], yTitle: null,
  legendDx: 75, legendW: 212, title: 'SLOW WIND'
});
</script>
</body></html>
